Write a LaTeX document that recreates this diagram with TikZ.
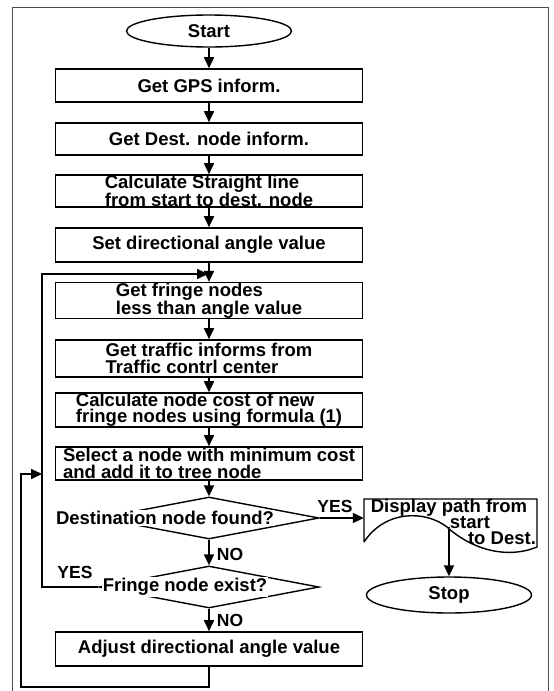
\documentclass[tikz,border=0pt]{standalone}
\usepackage{fontspec}
\setmainfont{Liberation Sans}
\usetikzlibrary{shapes.geometric,arrows.meta}
\begin{document}
\begin{tikzpicture}[x=1pt,y=-1pt,
  every node/.style={font=\bfseries\fontsize{18.5}{16.5}\selectfont, inner sep=0pt},
  procbox/.style={draw, line width=1.6pt, minimum width=307pt, align=left},
  term/.style={draw, ellipse, line width=1.4pt, minimum width=165pt},
  decis/.style={draw, diamond, line width=1.4pt, minimum width=220pt, minimum height=42pt, inner sep=0pt},
  dectext/.style={fill=white, inner sep=1pt},
  arr/.style={line width=1.7pt, -{Triangle[length=11pt,width=10pt]}},
  lbl/.style={font=\bfseries\fontsize{17.5}{17.5}\selectfont},
  frame/.style={line width=0.7pt, black!70}]
\useasboundingbox (0,0) rectangle (554,691);
\draw[frame] (12,691) -- (12,7) -- (548,7) -- (548,691);

\node[term, minimum height=32pt] (start) at (209,31) {Start};
\node[procbox, minimum height=33pt] (b1) at (209,85.5) {Get GPS inform.};
\node[procbox, minimum height=32pt] (b2) at (209,139) {Get Dest. node inform.};
\node[procbox, minimum height=32pt] (b3) at (209,191) {Calculate Straight line\\from start to dest. node};
\node[procbox, minimum height=34pt] (b4) at (209,245) {Set directional angle value};
\node[procbox, minimum height=35pt] (b5) at (209,300.5) {Get fringe nodes\\ less than angle value};
\node[procbox, minimum height=37pt] (b6) at (209,358.5) {Get traffic informs from\\Traffic contrl center};
\node[procbox, minimum height=34pt] (b7) at (209,410) {Calculate node cost of new\\fringe nodes using formula (1)};
\node[procbox, minimum height=33pt] (b8) at (209,463.5) {Select a node with minimum cost\\and add it to tree node};

\node[decis] (dec1) at (209,518) {};
\node[dectext] (dec1t) at (165,518) {Destination node found?};
\node[decis] (dec2) at (209,587) {};
\node[dectext] (dec2t) at (185,587) {Fringe node exist?};

\node[procbox, minimum height=34pt] (adj) at (209,649) {Adjust directional angle value};

% display document shape
\node[minimum width=173pt, minimum height=48pt] (disp) at (450.5,523) {};
\draw[line width=1.4pt] (364,542) -- (364,499) -- (537,499) -- (537,547)
  .. controls (505,560) and (470,548) .. (447,527)
  .. controls (425,510) and (385,510) .. (364,542);
\node (disp1) at (449,508) {Display path from};
\node (disp2) at (470,523) {start};
\node (disp3) at (502,538) {to Dest.};
\coordinate (dw) at (449,527);

\node[term, minimum height=36pt] (stop) at (449,595) {Stop};

% main flow
\draw[arr] (start) -- (b1);
\draw[arr] (b1) -- (b2);
\draw[arr] (b2) -- (b3);
\draw[arr] (b3) -- (b4);
\draw[arr] (b4) -- (b5);
\draw[arr] (b5) -- (b6);
\draw[arr] (b6) -- (b7);
\draw[arr] (b7) -- (b8);
\draw[arr] (b8) -- (dec1.north);
\draw[arr] (dec1.south) -- (dec2.north);
\draw[arr] (dec2.south) -- (adj);
\draw[arr] (dec1.east) -- (dec1.east -| disp.west);
\draw[arr] (dw) -- (stop.north);

% inner loop (YES from fringe decision)
\coordinate (ll) at (42,274);
\coordinate (lj) at (209,274);
\draw[arr, shorten >=1pt] (dec2.west) -| (ll) -- (lj);

% outer loop from adjust box
\coordinate (ob) at (209,687);
\coordinate (obl) at (21,687);
\coordinate (olt) at (21,474);
\coordinate (ole) at (42,474);
\draw[arr] (adj.south) -- (ob) -- (obl) -- (olt) -- (ole);

% labels
\node[lbl] (yes1) at (335,506) {YES};
\node[lbl] (no1) at (230,554) {NO};
\node[lbl] (yes2) at (75,572) {YES};
\node[lbl] (no2) at (230,620) {NO};
\end{tikzpicture}
\end{document}
